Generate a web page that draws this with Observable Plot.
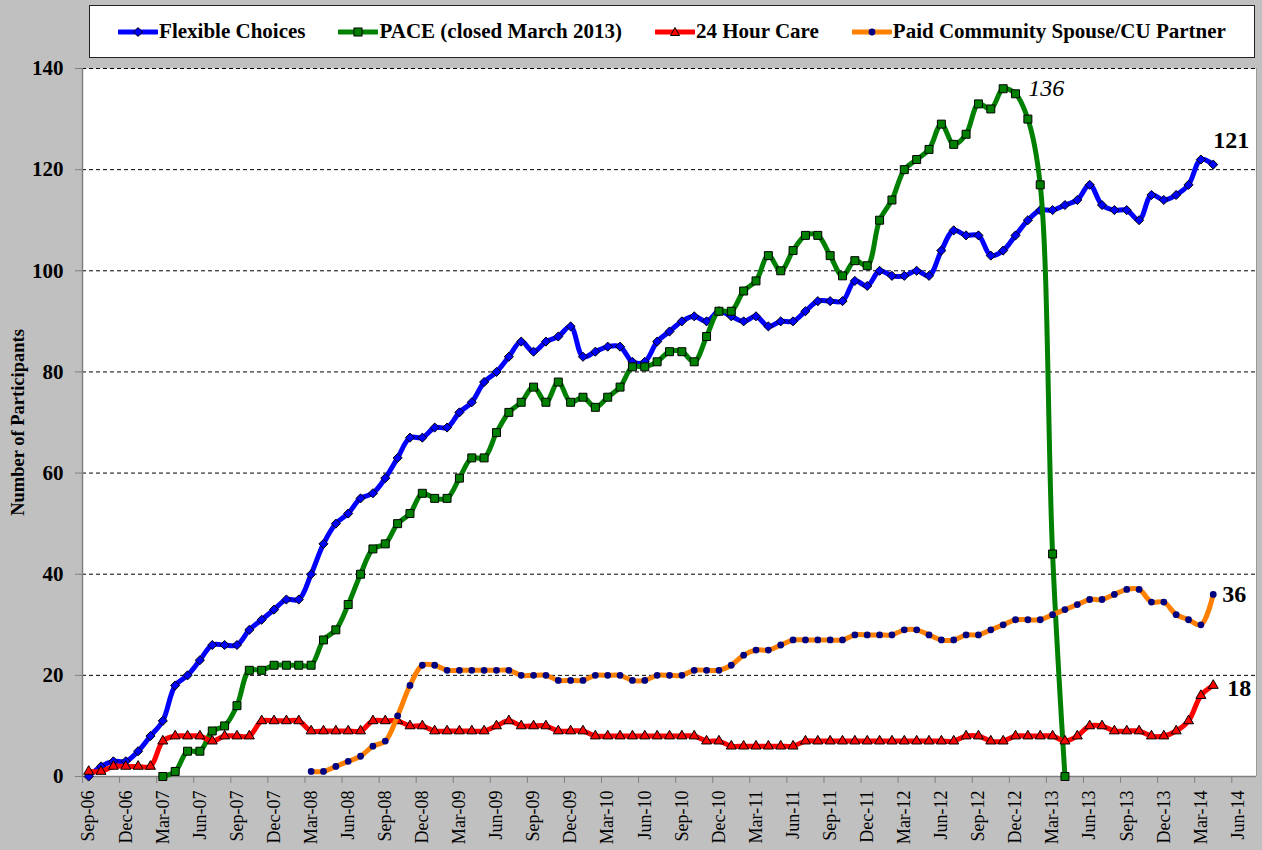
<!DOCTYPE html>
<html>
<head>
<meta charset="utf-8">
<script src="https://cdn.jsdelivr.net/npm/d3@7"></script>
<script src="https://cdn.jsdelivr.net/npm/@observablehq/plot@0.6"></script>
<style>
  body { margin: 0; background: #c0c0c0; }
  #wrap { width: 1262px; height: 850px; position: relative; overflow: hidden; background: #c0c0c0;
          font-family: "Liberation Serif", "Times New Roman", serif; }
  #legend { position: absolute; left: 89px; top: 5px; width: 1166px; height: 53px; box-sizing: border-box;
            border: 1px solid #222; background: #fff; display: flex; align-items: center; justify-content: center;
            gap: 33px; font-weight: bold; font-size: 21px; color: #000; z-index: 2; }
  .item { display: flex; align-items: center; white-space: nowrap; }
  .item svg { display: block; margin-right: 1px; }
  #chart { position: absolute; left: 0; top: 50px; z-index: 1; }
</style>
</head>
<body>
<div id="wrap">
  <div id="legend"></div>
  <div id="chart"></div>
</div>
<script>
// ---------------- data ----------------
const axisFirstMonth = [2006, 8];   // Sep-06 (year, zero-based month)
const axisLastMonth  = [2014, 6];   // Jul-14 (last category slot on the axis)

const seriesNames  = ["Flexible Choices", "PACE (closed March 2013)", "24 Hour Care", "Paid Community Spouse/CU Partner"];
const seriesStart  = ["Sep-06", "Mar-07", "Sep-06", "Mar-08"];
const seriesColors = ["#0000ff", "#008000", "#ff0000", "#ff8000"];

// Flexible Choices, Sep-06 .. Apr-14
const flexible = [
  0, 2, 3, 3,
  5, 8, 11, 18, 20, 23, 26, 26, 26, 29, 31, 33,
  35, 35, 40, 46, 50, 52, 55, 56, 59, 63, 67, 67,
  69, 69, 72, 74, 78, 80, 83, 86, 84, 86, 87, 89,
  83, 84, 85, 85, 82, 82, 86, 88, 90, 91, 90, 92,
  91, 90, 91, 89, 90, 90, 92, 94, 94, 94, 98, 97,
  100, 99, 99, 100, 99, 104, 108, 107, 107, 103, 104, 107,
  110, 112, 112, 113, 114, 117, 113, 112, 112, 110, 115, 114,
  115, 117, 122, 121
];
// PACE, Mar-07 .. Apr-13
const pace = [
  0, 1, 5, 5, 9, 10, 14, 21, 21, 22,
  22, 22, 22, 27, 29, 34, 40, 45, 46, 50, 52, 56,
  55, 55, 59, 63, 63, 68, 72, 74, 77, 74, 78, 74,
  75, 73, 75, 77, 81, 81, 82, 84, 84, 82, 87, 92,
  92, 96, 98, 103, 100, 104, 107, 107, 103, 99, 102, 101,
  110, 114, 120, 122, 124, 129, 125, 127, 133, 132, 136, 135,
  130, 117, 44, 0
];
// 24 Hour Care, Sep-06 .. Apr-14
const hourCare = [
  1, 1, 2, 2,
  2, 2, 7, 8, 8, 8, 7, 8, 8, 8, 11, 11,
  11, 11, 9, 9, 9, 9, 9, 11, 11, 11, 10, 10,
  9, 9, 9, 9, 9, 10, 11, 10, 10, 10, 9, 9,
  9, 8, 8, 8, 8, 8, 8, 8, 8, 8, 7, 7,
  6, 6, 6, 6, 6, 6, 7, 7, 7, 7, 7, 7,
  7, 7, 7, 7, 7, 7, 7, 8, 8, 7, 7, 8,
  8, 8, 8, 7, 8, 10, 10, 9, 9, 9, 8, 8,
  9, 11, 16, 18
];
// Paid Community Spouse/CU Partner, Mar-08 .. Apr-14
const paidSpouse = [
  1, 1, 2, 3, 4, 6, 7, 12, 18, 22,
  22, 21, 21, 21, 21, 21, 21, 20, 20, 20, 19, 19,
  19, 20, 20, 20, 19, 19, 20, 20, 20, 21, 21, 21,
  22, 24, 25, 25, 26, 27, 27, 27, 27, 27, 28, 28,
  28, 28, 29, 29, 28, 27, 27, 28, 28, 29, 30, 31,
  31, 31, 32, 33, 34, 35, 35, 36, 37, 37, 34.5, 34.5,
  32, 31, 30, 36
];

const tickLabels = [
  "Sep-06","Dec-06","Mar-07","Jun-07","Sep-07","Dec-07","Mar-08","Jun-08","Sep-08","Dec-08",
  "Mar-09","Jun-09","Sep-09","Dec-09","Mar-10","Jun-10","Sep-10","Dec-10","Mar-11","Jun-11",
  "Sep-11","Dec-11","Mar-12","Jun-12","Sep-12","Dec-12","Mar-13","Jun-13","Sep-13","Dec-13",
  "Mar-14","Jun-14"
];
const yTicks = [0, 20, 40, 60, 80, 100, 120, 140];

// ---------------- build ----------------
const fmt = d3.utcFormat("%b-%y");
const months = d3.utcMonth.range(
  new Date(Date.UTC(axisFirstMonth[0], axisFirstMonth[1], 1)),
  new Date(Date.UTC(axisLastMonth[0], axisLastMonth[1] + 1, 1))
).map(fmt);
const idx = new Map(months.map((m, i) => [m, i]));
const nCat = months.length;

const seriesValues = [flexible, pace, hourCare, paidSpouse];
const rows = seriesValues.map((vals, s) => {
  const start = idx.get(seriesStart[s]);
  return vals.map((v, k) => ({series: seriesNames[s], i: start + k, v}));
});

const tickIdx = tickLabels.map(l => idx.get(l));
const boundaries = tickIdx.map(i => i - 0.5);

const serif = "Liberation Serif, Times New Roman, serif";
const symbols = ["diamond2", "square", "triangle", "circle"];
const radii = [4.1, 4.5, 3.7, 3.4];
const dotFill = ["#0000ff", "#008000", "#ff0000", "#000080"];
const dotStroke = ["#000", "#000", "#000", "none"];

const lineMarks = [];
rows.forEach((data, s) => {
  lineMarks.push(Plot.line(data, {x: "i", y: "v", stroke: seriesColors[s], strokeWidth: 5,
    curve: "catmull-rom", strokeLinejoin: "round", strokeLinecap: "round"}));
  lineMarks.push(Plot.dot(data, {x: "i", y: "v", symbol: () => symbols[s], r: radii[s],
    fill: dotFill[s], stroke: dotStroke[s], strokeWidth: 1}));
});

// labels on points
const paceMax = rows[1].reduce((a, b) => (b.v > a.v ? b : a));
const lastFlex = rows[0][rows[0].length - 1];
const lastPaid = rows[3][rows[3].length - 1];
const lastCare = rows[2][rows[2].length - 1];

const chart = Plot.plot({
  width: 1262,
  height: 800,
  marginLeft: 82,
  marginRight: 6,
  marginTop: 18,
  marginBottom: 74,
  style: {background: "transparent", fontFamily: serif, color: "#000"},
  x: {type: "linear", domain: [-0.5, nCat - 0.5], axis: null},
  y: {domain: [0, 140], axis: null},
  marks: [
    Plot.frame({fill: "#ffffff", stroke: null}),
    Plot.ruleY(yTicks.filter(v => v > 0), {stroke: "#000", strokeWidth: 1, strokeDasharray: "4,3"}),
    Plot.ruleY([0], {stroke: "#808080", strokeWidth: 1.5}),
    Plot.ruleX([-0.5], {stroke: "#808080", strokeWidth: 1.5}),
    Plot.ruleX([nCat - 0.5], {stroke: "#9a9a9a", strokeWidth: 1}),
    Plot.axisY({ticks: yTicks, tickSize: 7, tickPadding: 12, fontSize: 21, fontWeight: "bold",
      stroke: "#808080", fill: "#000", label: null, tickFormat: d => d}),
    Plot.axisX({ticks: boundaries, tickSize: 7, stroke: "#808080", tickFormat: () => "", label: null}),
    Plot.axisX({ticks: tickIdx, tickSize: 0, tickPadding: 14, tickRotate: -90, fontSize: 18,
      fill: "#000", label: null, tickFormat: i => months[i]}),
    Plot.text(["Number of Participants"], {frameAnchor: "left", dx: -64, rotate: -90, textAnchor: "middle",
      fontSize: 18.5, fontWeight: "bold", fill: "#000"}),
    ...lineMarks,
    Plot.text([paceMax], {x: "i", y: "v", text: d => String(d.v), dx: 25, textAnchor: "start",
      fontSize: 24, fontStyle: "italic", fill: "#000"}),
    Plot.text([lastFlex], {x: "i", y: "v", text: d => String(d.v), dx: 0, dy: -24, textAnchor: "start",
      fontSize: 24, fontWeight: "bold", fill: "#000"}),
    Plot.text([lastPaid], {x: "i", y: "v", text: d => String(d.v), dx: 9, dy: 0, textAnchor: "start",
      fontSize: 24, fontWeight: "bold", fill: "#000"}),
    Plot.text([lastCare], {x: "i", y: "v", text: d => String(d.v), dx: 14, dy: 3, textAnchor: "start",
      fontSize: 24, fontWeight: "bold", fill: "#000"})
  ]
});
document.getElementById("chart").appendChild(chart);

// ---------------- legend ----------------
const legend = document.getElementById("legend");
const markerSvg = [
  '<path d="M20,2.5 L24.5,7 L20,11.5 L15.5,7 Z" fill="#0000ff" stroke="#000" stroke-width="1"/>',
  '<rect x="16" y="3" width="8" height="8" fill="#008000" stroke="#000" stroke-width="1"/>',
  '<path d="M20,2.5 L24.5,10.5 L15.5,10.5 Z" fill="#ff0000" stroke="#000" stroke-width="1"/>',
  '<circle cx="20" cy="7" r="3.4" fill="#000080"/>'
];
seriesNames.forEach((name, s) => {
  const item = document.createElement("div");
  item.className = "item";
  item.innerHTML = `<svg width="40" height="14" viewBox="0 0 40 14">
      <line x1="1" y1="7" x2="39" y2="7" stroke="${seriesColors[s]}" stroke-width="5" stroke-linecap="round"/>
      ${markerSvg[s]}</svg><span>${name}</span>`;
  legend.appendChild(item);
});
</script>
</body>
</html>
